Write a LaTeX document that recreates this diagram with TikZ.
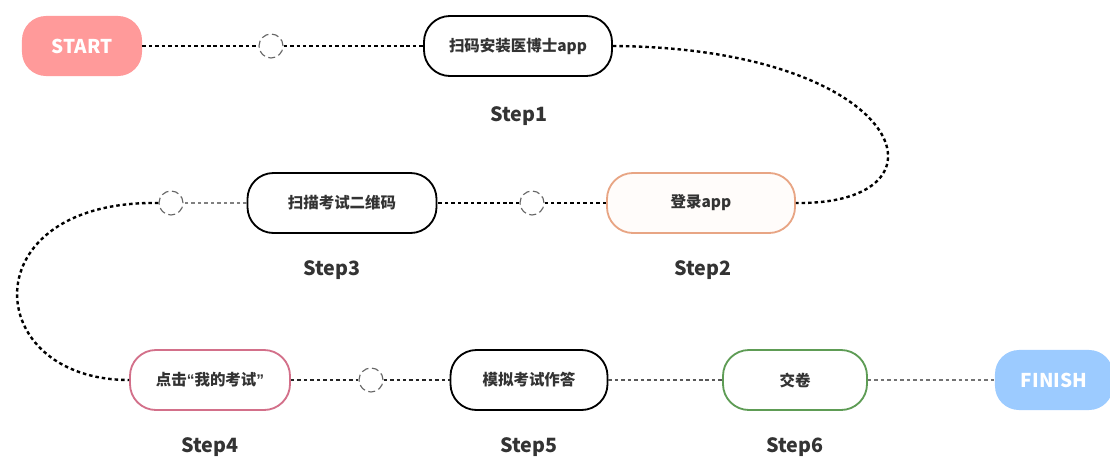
\documentclass[tikz,border=0pt]{standalone}
\usepackage{fontspec}
\setmainfont{Noto Sans CJK SC}
\newfontfamily\quotefont{Liberation Sans}
\usepackage{tikz}
\usetikzlibrary{positioning,calc}

\definecolor{startred}{HTML}{FF9A9A}
\definecolor{finishblue}{HTML}{9CCBFF}
\definecolor{peach}{HTML}{E8A584}
\definecolor{rose}{HTML}{D3708A}
\definecolor{leaf}{HTML}{5E9C55}
\definecolor{ink}{HTML}{333333}

\begin{document}
\begin{tikzpicture}[x=0.025cm, y=-0.025cm,
      stepbox/.style={rectangle, draw=black, line width=1.3pt, fill=white, align=center, rounded corners=0.65cm, minimum width=4.7cm, minimum height=1.5cm, font=\fontsize{11}{13}\selectfont\bfseries, text=ink},
      endbox/.style={rectangle, rounded corners=0.6cm, minimum width=3cm, minimum height=1.5cm, text=white, font=\fontsize{13.5}{15}\selectfont\bfseries},
      hole/.style={circle, draw=black!60, dash pattern=on 5pt off 2.6pt, line width=0.8pt, fill=white, minimum size=0.6cm, inner sep=0pt},
      steplabel/.style={font=\fontsize{14}{16}\selectfont\bfseries, text=ink},
      link/.style={line width=1.7pt, dash pattern=on 2.5pt off 2.1pt},
      ]
      \useasboundingbox (0,0) rectangle (1110,460);

      \node[endbox, fill=startred] (ST) at (82,46) {START};
      \node[hole] (C1) at (271,46) {};
      \node[stepbox] (S1) at (518,46) {扫码安装医博士app};
      \node[steplabel] (L1) at (519,116) {Step1};

      \node[stepbox, draw=peach, fill=orange!2] (S2) at (701,203) {登录app};
      \node[steplabel] (L2) at (703,270) {Step2};
      \node[hole] (C2) at (532,203) {};
      \node[stepbox, minimum width=4.725cm] (S3) at (342,203) {扫描考试二维码};
      \node[steplabel] (L3) at (332,270) {Step3};
      \node[hole] (C3) at (171,203) {};

      \node[stepbox, draw=rose, minimum width=4cm] (S4) at (210,380) {点击{\quotefont“}我的考试{\quotefont”}};
      \node[steplabel] (L4) at (210,447) {Step4};
      \node[hole] (C4) at (371,380) {};
      \node[stepbox, minimum width=3.925cm] (S5) at (529,380) {模拟考试作答};
      \node[steplabel] (L5) at (529,447) {Step5};
      \node[stepbox, draw=leaf, minimum width=3.6cm] (S6) at (795,380) {交卷};
      \node[steplabel] (L6) at (795,447) {Step6};
      \node[endbox, fill=finishblue, minimum width=2.95cm] (FI) at (1054,380) {FINISH};

      \draw[link] (ST.east) -- (C1.west);
      \draw[link] (C1.east) -- (S1.west);
      \draw[link] (S1.east) .. controls (905,48) and (962,205) .. (S2.east);
      \draw[link] (S2.west) -- (C2.east);
      \draw[link] (C2.west) -- (S3.east);
      \draw[link, black!50] (S3.west) -- (C3.east);
      \draw[link] (C3.west) .. controls (-30,200) and (-20,380) .. (S4.west);
      \draw[link, black!85] (S4.east) -- (C4.west);
      \draw[link, black!85] (C4.east) -- (S5.west);
      \draw[link, black!65] (S5.east) -- (S6.west);
      \draw[link, black!55] (S6.east) -- (FI.west);
    \end{tikzpicture}
\end{document}
